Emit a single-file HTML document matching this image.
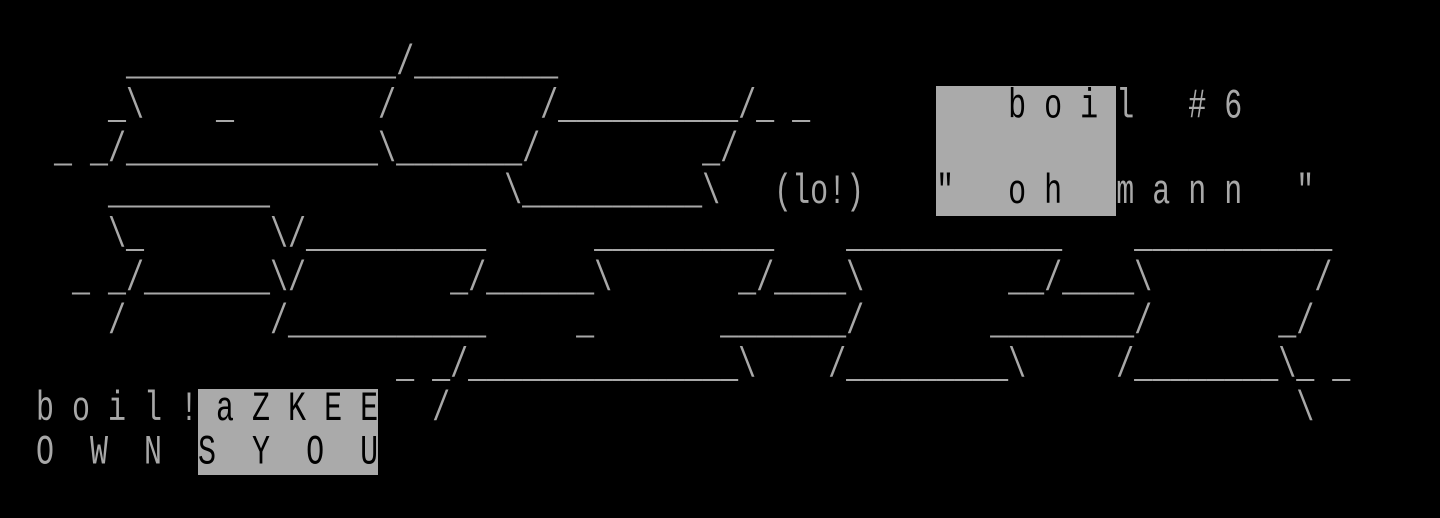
<!DOCTYPE html>
<html><head><meta charset="utf-8"><style>
html,body{margin:0;padding:0;background:#000;width:1440px;height:518px;overflow:hidden;}
.hl{position:absolute;background:#aaa;}
pre{position:absolute;left:0;top:0;margin:0;font-family:"Liberation Mono",monospace;font-size:30px;line-height:30.857px;color:#a8a8a8;transform:scaleY(1.4);transform-origin:0 0;white-space:pre;}
b{font-weight:normal;color:#000;}
</style></head><body>
<div class="hl" style="left:936px;top:86px;width:180px;height:130px"></div>
<div class="hl" style="left:198px;top:389px;width:180px;height:86px"></div>
<pre>

       _______________/________
      _\    _        /        /__________/_ _           <b>b o i</b> l   # 6
   _ _/______________\_______/         _/
      _________             \__________\   (lo!)    <b>"   o h</b>   m a n n   "
      \_       \/__________      __________    ____________    ___________
    _ _/_______\/        _/______\       _/____\        __/____\         /
      /        /___________     _       _______/       ________/       _/
                      _ _/_______________\    /_________\     /________\_ _
  b o i l !<b> a Z K E E</b>   /                                               \
  O  W  N  <b>S  Y  O  U</b>
</pre>
</body></html>
